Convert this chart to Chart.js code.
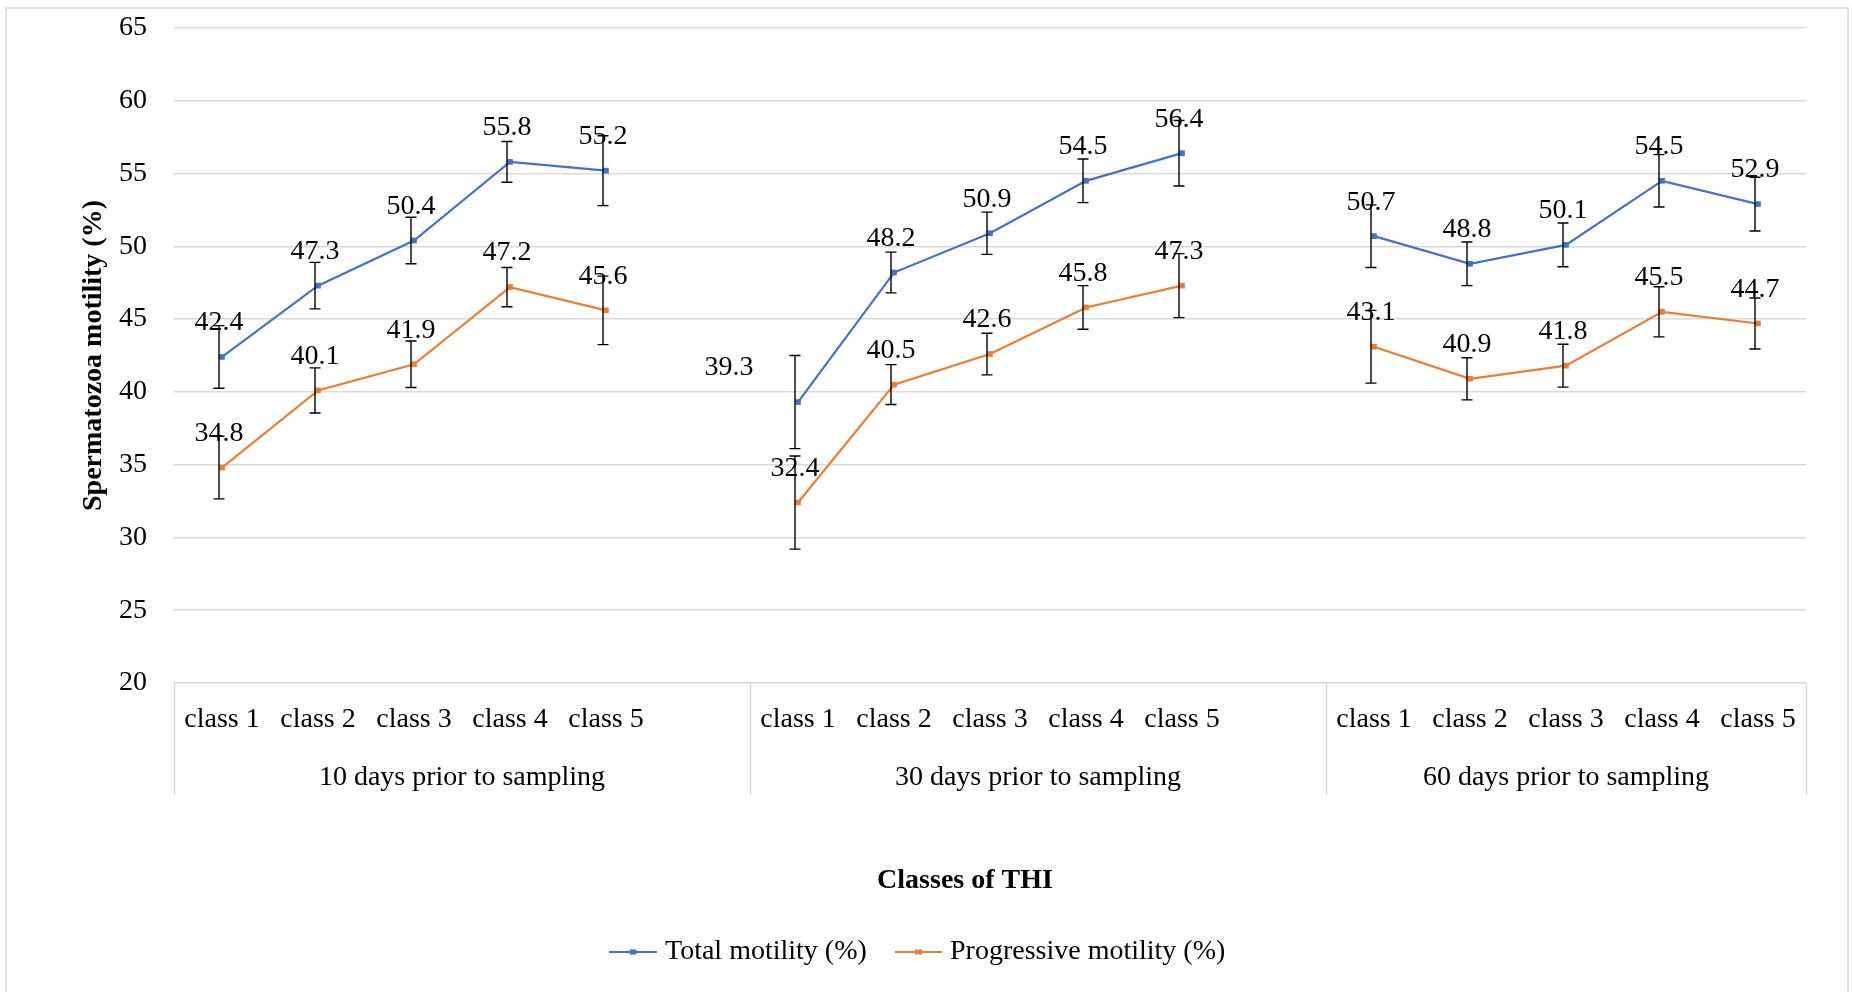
<!DOCTYPE html>
<html>
<head>
<meta charset="utf-8">
<script src="https://cdn.jsdelivr.net/npm/chart.js@4.4.1/dist/chart.umd.min.js"></script>
<style>
    html, body { margin: 0; padding: 0; background: #fff; }
    canvas { display: block; }
</style>
</head>
<body>
<canvas id="motilityChart" width="1852" height="992"></canvas>
<script>
const classLabels = ['class 1', 'class 2', 'class 3', 'class 4', 'class 5'];
const groupLabels = ['10 days prior to sampling', '30 days prior to sampling', '60 days prior to sampling'];
const yTicks = [20, 25, 30, 35, 40, 45, 50, 55, 60, 65];

const totalMotility = [42.4, 47.3, 50.4, 55.8, 55.2, 39.3, 48.2, 50.9, 54.5, 56.4, 50.7, 48.8, 50.1, 54.5, 52.9];
const progressiveMotility = [34.8, 40.1, 41.9, 47.2, 45.6, 32.4, 40.5, 42.6, 45.8, 47.3, 43.1, 40.9, 41.8, 45.5, 44.7];
const totalError = [2.15, 1.6, 1.6, 1.4, 2.4, 3.2, 1.4, 1.45, 1.5, 2.25, 2.15, 1.5, 1.5, 1.8, 1.85];
const progressiveError = [2.15, 1.55, 1.6, 1.35, 2.35, 3.2, 1.37, 1.43, 1.5, 2.2, 2.5, 1.45, 1.47, 1.72, 1.75];

const FONT = '"Liberation Serif", "Times New Roman", serif';
const BLUE = '#4472C4';
const ORANGE = '#ED7D31';
const GRID = '#d9d9d9';

// each group gets its 5 classes plus an empty slot, so lines break between groups
function toSlots(values) {
    const out = [];
    groupLabels.forEach((g, gi) => {
        classLabels.forEach((c, ci) => out.push(values[gi * classLabels.length + ci]));
        if (gi < groupLabels.length - 1) out.push(null);
    });
    return out;
}

const slotLabels = toSlots(groupLabels.flatMap(() => classLabels));
const slotsPerGroup = classLabels.length + 1;

// data label nudges (dataset-slot : px)
const labelShift = { '0-6': -66 };

const decorations = {
    id: 'decorations',
    afterDatasetsDraw(chart) {
        const ctx = chart.ctx;
        const ys = chart.scales.y;
        ctx.save();
        chart.data.datasets.forEach((ds, di) => {
            const meta = chart.getDatasetMeta(di);
            meta.data.forEach((pt, idx) => {
                const v = ds.data[idx];
                if (v === null) return;
                const e = ds.errors[idx];
                const x = pt.x - 3;
                const yTop = ys.getPixelForValue(v + e);
                const yBot = ys.getPixelForValue(v - e);
                ctx.strokeStyle = '#000';
                ctx.lineWidth = 1.4;
                ctx.beginPath();
                ctx.moveTo(x, yTop); ctx.lineTo(x, yBot);
                ctx.moveTo(x - 5.5, yTop); ctx.lineTo(x + 5.5, yTop);
                ctx.moveTo(x - 5.5, yBot); ctx.lineTo(x + 5.5, yBot);
                ctx.stroke();
            });
        });
        ctx.fillStyle = '#000';
        ctx.font = '28px ' + FONT;
        ctx.textAlign = 'center';
        ctx.textBaseline = 'middle';
        chart.data.datasets.forEach((ds, di) => {
            const meta = chart.getDatasetMeta(di);
            meta.data.forEach((pt, idx) => {
                const v = ds.data[idx];
                if (v === null) return;
                const dx = labelShift[di + '-' + idx] || 0;
                ctx.fillText(v.toFixed(1), pt.x - 3 + dx, pt.y - 34);
            });
        });
        ctx.restore();
    },
    afterDraw(chart) {
        const ctx = chart.ctx;
        const xs = chart.scales.x;
        const area = chart.chartArea;
        const slotW = (area.right - area.left) / slotLabels.length;
        const boxBottom = 795;
        ctx.save();

        // outer frame
        ctx.strokeStyle = GRID;
        ctx.lineWidth = 1.5;
        ctx.strokeRect(6, 8, 1842, 1000);

        // category box separators
        ctx.beginPath();
        for (let gi = 0; gi <= groupLabels.length; gi++) {
            let x = gi < groupLabels.length
                ? xs.getPixelForValue(gi * slotsPerGroup) - slotW / 2
                : xs.getPixelForValue(slotLabels.length - 1) + slotW / 2;
            x = Math.round(x) + 0.5;
            ctx.moveTo(x, area.bottom);
            ctx.lineTo(x, boxBottom);
        }
        ctx.stroke();

        ctx.fillStyle = '#000';
        ctx.font = '28px ' + FONT;
        ctx.textAlign = 'center';
        ctx.textBaseline = 'middle';
        slotLabels.forEach((lbl, i) => {
            if (lbl) ctx.fillText(lbl, xs.getPixelForValue(i), 720);
        });
        groupLabels.forEach((g, gi) => {
            const first = gi * slotsPerGroup;
            const last = first + classLabels.length - 1;
            const left = xs.getPixelForValue(first) - slotW / 2;
            const right = gi < groupLabels.length - 1
                ? xs.getPixelForValue(last + 1) + slotW / 2
                : xs.getPixelForValue(last) + slotW / 2;
            ctx.fillText(g, (left + right) / 2, 778);
        });

        // axis titles
        ctx.font = 'bold 28px ' + FONT;
        ctx.fillText('Classes of THI', 965, 881);
        ctx.save();
        ctx.translate(94, (area.top + area.bottom) / 2);
        ctx.rotate(-Math.PI / 2);
        ctx.fillText('Spermatozoa motility (%)', 0, 0);
        ctx.restore();

        // legend
        const legendY = 952;
        const items = [
            { text: 'Total motility (%)', color: BLUE, x0: 609, x1: 657 },
            { text: 'Progressive motility (%)', color: ORANGE, x0: 895, x1: 942 }
        ];
        ctx.font = '28px ' + FONT;
        ctx.textAlign = 'left';
        items.forEach(it => {
            ctx.strokeStyle = it.color;
            ctx.lineWidth = 2;
            ctx.beginPath();
            ctx.moveTo(it.x0, legendY);
            ctx.lineTo(it.x1, legendY);
            ctx.stroke();
            ctx.fillStyle = it.color;
            ctx.fillRect((it.x0 + it.x1) / 2 - 3.5, legendY - 2.5, 7, 5);
            ctx.fillStyle = '#000';
            ctx.fillText(it.text, it.x1 + 8, legendY);
        });
        ctx.restore();
    }
};

new Chart(document.getElementById('motilityChart'), {
    type: 'line',
    data: {
        labels: slotLabels,
        datasets: [{
            label: 'Total motility (%)',
            data: toSlots(totalMotility),
            errors: toSlots(totalError),
            borderColor: BLUE,
            backgroundColor: BLUE,
            borderWidth: 2.2,
            pointStyle: 'rect',
            pointRadius: 4,
            pointBorderWidth: 0,
            spanGaps: false,
            tension: 0
        }, {
            label: 'Progressive motility (%)',
            data: toSlots(progressiveMotility),
            errors: toSlots(progressiveError),
            borderColor: ORANGE,
            backgroundColor: ORANGE,
            borderWidth: 2.2,
            pointStyle: 'rect',
            pointRadius: 4,
            pointBorderWidth: 0,
            spanGaps: false,
            tension: 0
        }]
    },
    options: {
        responsive: false,
        animation: false,
        events: [],
        layout: { padding: { top: 28, right: 46, left: 0, bottom: 0 } },
        plugins: {
            legend: { display: false },
            title: { display: false },
            tooltip: { enabled: false }
        },
        scales: {
            x: {
                type: 'category',
                offset: true,
                grid: { display: false },
                border: { display: false },
                ticks: { display: false },
                afterFit(scale) { scale.height = 992 - 683; }
            },
            y: {
                min: yTicks[0],
                max: yTicks[yTicks.length - 1],
                afterBuildTicks(scale) { scale.ticks = yTicks.map(v => ({ value: v })); },
                grid: { color: GRID, lineWidth: 1.5, drawTicks: false },
                border: { display: false },
                ticks: {
                    padding: 27,
                    color: '#000',
                    font: { family: FONT, size: 28 }
                },
                afterFit(scale) {
                    scale.width = 174;
                    scale.paddingTop = 0;
                    scale.paddingBottom = 0;
                }
            }
        }
    },
    plugins: [decorations]
});
</script>
</body>
</html>
